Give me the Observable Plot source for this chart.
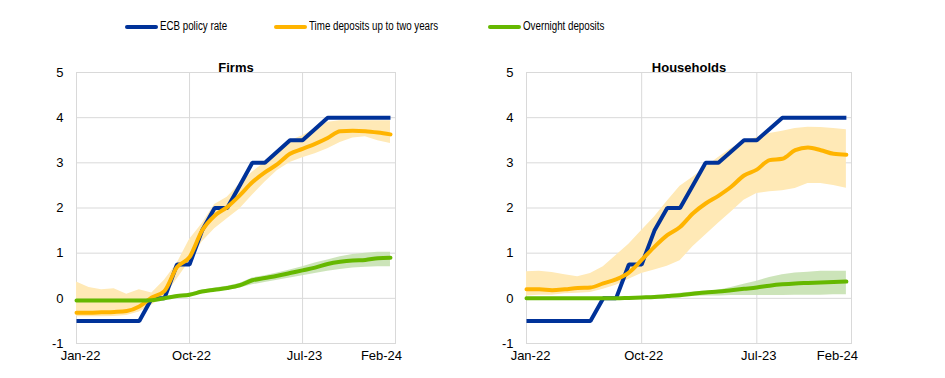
<!DOCTYPE html>
<html>
<head>
<meta charset="utf-8">
<script src="https://cdn.jsdelivr.net/npm/d3@7"></script>
<script src="https://cdn.jsdelivr.net/npm/@observablehq/plot@0.6"></script>
<style>
  html, body { margin: 0; padding: 0; background: #fff; }
  #root { position: relative; width: 945px; height: 378px; overflow: hidden; font-family: "Liberation Sans", Arial, sans-serif; }
  .panel { position: absolute; top: 40px; }
  .sw { position: absolute; height: 4px; border-radius: 2px; top: 24.5px; }
  .lt { position: absolute; top: 19px; font-size: 12.5px; color: #000; white-space: nowrap; transform: scaleX(0.78); transform-origin: left center; }
</style>
</head>
<body>
<div id="root"></div>
<script>
// ---- data ----
const months = ["Jan-22","Feb-22","Mar-22","Apr-22","May-22","Jun-22","Jul-22","Aug-22","Sep-22","Oct-22","Nov-22","Dec-22",
                "Jan-23","Feb-23","Mar-23","Apr-23","May-23","Jun-23","Jul-23","Aug-23","Sep-23","Oct-23","Nov-23","Dec-23",
                "Jan-24","Feb-24"];
const xTickLabels = ["Jan-22","Oct-22","Jul-23","Feb-24"];
const yTicks = [-1, 0, 1, 2, 3, 4, 5];
const seriesNames = ["ECB policy rate", "Time deposits up to two years", "Overnight deposits"];
const panelTitles = ["Firms", "Households"];

const ecbRate = [-0.5,-0.5,-0.5,-0.5,-0.5,-0.5,0,0,0.75,0.75,1.5,2,2,2.5,3,3,3.25,3.5,3.5,3.75,4,4,4,4,4,4];

const firmsTime     = [-0.32,-0.32,-0.31,-0.3,-0.28,-0.18,0.02,0.16,0.69,0.91,1.5,1.83,2.02,2.28,2.57,2.79,2.97,3.2,3.31,3.42,3.55,3.7,3.71,3.7,3.67,3.63];
const firmsTimeLow  = [-0.41,-0.41,-0.41,-0.4,-0.38,-0.3,-0.15,0.03,0.42,0.82,1.25,1.54,1.76,1.98,2.28,2.57,2.83,3.01,3.11,3.2,3.31,3.45,3.55,3.58,3.49,3.43];
const firmsTimeHigh = [0.36,0.24,0.19,0.21,0.09,0.19,0.12,0.4,0.77,1.3,1.65,2.08,2.24,2.53,2.79,3.01,3.23,3.49,3.6,3.75,3.9,3.93,3.93,3.93,3.93,3.93];
const firmsOn       = [-0.05,-0.05,-0.05,-0.05,-0.05,-0.05,-0.04,0.0,0.05,0.08,0.15,0.19,0.23,0.29,0.4,0.45,0.5,0.56,0.62,0.68,0.76,0.81,0.84,0.85,0.89,0.9];
const firmsOnLow    = [-0.08,-0.08,-0.08,-0.08,-0.08,-0.08,-0.07,-0.03,0.02,0.05,0.11,0.15,0.18,0.23,0.3,0.35,0.4,0.45,0.5,0.55,0.6,0.64,0.67,0.69,0.7,0.7];
const firmsOnHigh   = [-0.02,-0.02,-0.02,-0.02,-0.02,-0.02,-0.01,0.03,0.08,0.11,0.18,0.23,0.27,0.33,0.45,0.5,0.56,0.63,0.7,0.78,0.85,0.92,0.97,1.0,1.02,1.02];

const hhTime        = [0.2,0.2,0.18,0.2,0.23,0.24,0.33,0.42,0.57,0.85,1.14,1.4,1.58,1.88,2.1,2.27,2.47,2.72,2.85,3.06,3.09,3.28,3.34,3.28,3.2,3.18];
const hhTimeLow     = [0.05,0.07,0.07,0.1,0.11,0.13,0.2,0.29,0.42,0.55,0.63,0.71,0.83,1.14,1.4,1.66,1.91,2.17,2.32,2.36,2.38,2.43,2.54,2.54,2.5,2.44];
const hhTimeHigh    = [0.59,0.6,0.57,0.52,0.48,0.55,0.7,0.95,1.2,1.5,1.8,2.15,2.48,2.68,2.9,3.12,3.32,3.48,3.56,3.65,3.7,3.76,3.79,3.78,3.76,3.73];
const hhOn          = [0,0,0,0,0,0,0,0,0.01,0.02,0.03,0.05,0.07,0.1,0.13,0.15,0.18,0.21,0.24,0.28,0.31,0.33,0.34,0.35,0.36,0.37];
const hhOnLow       = [-0.01,-0.01,-0.01,-0.01,-0.01,-0.01,-0.01,-0.01,-0.01,0,0.01,0.02,0.03,0.04,0.05,0.05,0.06,0.06,0.06,0.06,0.06,0.07,0.07,0.07,0.08,0.08];
const hhOnHigh      = [0.02,0.02,0.02,0.02,0.02,0.02,0.02,0.02,0.02,0.04,0.06,0.08,0.11,0.14,0.16,0.18,0.24,0.31,0.38,0.46,0.52,0.56,0.58,0.6,0.6,0.6];

// ---- styling ----
const colors = ["#003299", "#FFB400", "#65B800"];
const bandColors = ["#FFE9B6", "#C6E1B1"];
const gridColor = "#d9d9d9";

function panel(title, time, tLo, tHi, on, oLo, oHi, width, ml, mr) {
  const rows = months.map((m, i) => ({
    i, m, ecb: ecbRate[i], time: time[i], tLo: tLo[i], tHi: tHi[i], on: on[i], oLo: oLo[i], oHi: oHi[i]
  }));
  const ticks = xTickLabels.map(l => ({i: months.indexOf(l), label: l}));
  const mid = ticks.slice(1, 3);
  return Plot.plot({
    width, height: 338,
    marginLeft: ml, marginRight: mr, marginTop: 32, marginBottom: 35,
    x: {domain: [0, 25.4], axis: null},
    y: {domain: [-1, 5], axis: null},
    style: {fontFamily: "'Liberation Sans', Arial, sans-serif", color: "#000", background: "transparent", overflow: "visible"},
    marks: [
      Plot.gridY(yTicks, {stroke: gridColor, strokeOpacity: 1, strokeWidth: 1}),
      Plot.gridX(mid.map(d => d.i), {stroke: gridColor, strokeOpacity: 1, strokeWidth: 1}),
      Plot.frame({stroke: gridColor, strokeWidth: 1}),
      Plot.areaY(rows, {x: "i", y1: "tLo", y2: "tHi", fill: bandColors[0]}),
      Plot.areaY(rows, {x: "i", y1: "oLo", y2: "oHi", fill: bandColors[1], fillOpacity: 0.9}),
      Plot.lineY(rows, {x: "i", y: "ecb", stroke: colors[0], strokeWidth: 4, strokeLinejoin: "miter", strokeLinecap: "butt"}),
      Plot.lineY(rows, {x: "i", y: "time", stroke: colors[1], strokeWidth: 4, curve: "monotone-x"}),
      Plot.lineY(rows, {x: "i", y: "on", stroke: colors[2], strokeWidth: 4, curve: "monotone-x"}),
      Plot.axisY(yTicks, {tickSize: 0, tickPadding: 13, tickFormat: d => String(d), fontSize: 13, fill: "#000"}),
      Plot.text(ticks.slice(0, 1), {x: "i", text: "label", frameAnchor: "bottom", dy: 16, dx: 4, fontSize: 13, fill: "#000"}),
      Plot.text(mid, {x: "i", text: "label", frameAnchor: "bottom", dy: 16, dx: 2, fontSize: 13, fill: "#000"}),
      Plot.text(ticks.slice(3), {x: "i", text: "label", frameAnchor: "bottom", dy: 16, dx: -9, fontSize: 13, fill: "#000"}),
      Plot.text([title], {frameAnchor: "top", dy: -10, text: d => d, fontSize: 13, fontWeight: "bold", fill: "#000"})
    ]
  });
}

const root = document.getElementById("root");

// legend
const legendPos = [[125, 160], [274, 309], [488, 523]];
seriesNames.forEach((name, k) => {
  const sw = document.createElement("div");
  sw.className = "sw";
  sw.style.left = legendPos[k][0] + "px";
  sw.style.width = "33px";
  sw.style.background = colors[k];
  root.appendChild(sw);
  const t = document.createElement("div");
  t.className = "lt";
  t.style.left = legendPos[k][1] + "px";
  t.textContent = name;
  root.appendChild(t);
});

const p1 = panel(panelTitles[0], firmsTime, firmsTimeLow, firmsTimeHigh, firmsOn, firmsOnLow, firmsOnHigh, 460, 76, 65);
const d1 = document.createElement("div"); d1.className = "panel"; d1.style.left = "0px"; d1.appendChild(p1); root.appendChild(d1);

const p2 = panel(panelTitles[1], hhTime, hhTimeLow, hhTimeHigh, hhOn, hhOnLow, hhOnHigh, 485, 66, 94);
const d2 = document.createElement("div"); d2.className = "panel"; d2.style.left = "460px"; d2.appendChild(p2); root.appendChild(d2);
</script>
</body>
</html>
